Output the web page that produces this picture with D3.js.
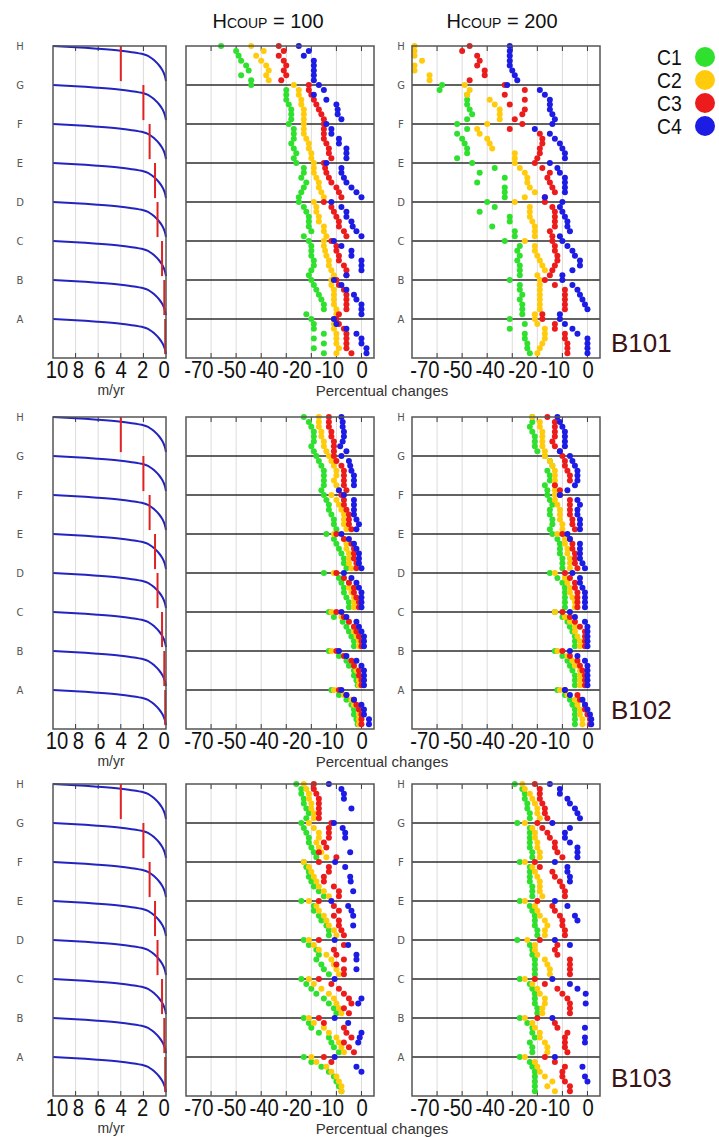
<!DOCTYPE html>
<html>
<head>
<meta charset="utf-8">
<script src="https://cdn.jsdelivr.net/npm/d3@7"></script>
<style>
  body { margin: 0; background: #fff; }
  svg { display: block; }
</style>
</head>
<body>
<svg id="chart" width="719" height="1137"></svg>
<script>
// ---------------------------------------------------------------
// Data
// ---------------------------------------------------------------
const categories = ["H", "G", "F", "E", "D", "C", "B", "A"];
const seriesNames = ["C1", "C2", "C3", "C4"];
const seriesColors = ["#2fe02f", "#ffcb0c", "#ec1c1c", "#1c1ce4"];
const blockNames = ["B101", "B102", "B103"];
const hcoupValues = [100, 200];

const velocityTickLabels = ["10", "8", "6", "4", "2", "0"];
const velocityGrid = [8, 6, 4, 2];
const percentTickLabels = ["-70", "-50", "-40", "-20", "-10", "0"];
const percentGrid = [-60, -50, -40, -30, -20, -10, 0];

// velocity profile (m/yr) against relative depth within one layer
const profileVelocity = [10, 8, 6, 4, 3, 2, 1.5, 1, 0.6, 0.3, 0.1, 0];
const profileDepth    = [0, 0.03, 0.07, 0.12, 0.16, 0.21, 0.27, 0.38, 0.5, 0.63, 0.77, 0.9];
// velocity at which each layer splits (m/yr), H..A
const splitVelocity = [4, 2, 1.45, 0.97, 0.75, 0.35, 0.15, 0.07];

// percentual changes, 8 samples per layer, layers H..A (null = off scale / no value)
const b101_100_c1 = [-56,-50,-49,-48,-46,-45,-48,-44, -44,-30,-30,-30,-29,-28,-28,-28, -29,-27,-27,-27,-28,-27,-26,-27, -26,-23,-23,-24,-22,-23,-24,-25,
                     -25,-23,-22,-21,-21,-21,-20,-23, -21,-20,-20,-20,-19,-19,-20,-21, -20,-19,-18,-17,-16,-15,-15,-22, -20,-19,-19,-15,-19,-15,-19,-15];
const b101_100_c2 = [-44,-39,-42,-40,-38,-37,-38,-37, -27,-25,-25,-24,-24,-23,-23,-23, -23,-23,-23,-22,-21,-21,-20,-20, -19,-19,-19,-18,-17,-17,-16,-15,
                     -19,-18,-18,-17,-17,-15,-15,-14, -15,-15,-14.5,-14,-13,-13,-12,-11, -12,-12,-11,-11,-11,-11,-10,-10, -11,-11,-11,-10,-10,-10,-9,-10];
const b101_100_c3 = [-33,-31,-33,-31,-30,-31,-30,-32, -21,-21,-20,-19,-18,-17,-16,-15, -15,-15,-15,-15,-14,-13,-13,-12, -15,-14.5,-14,-13,-12,-10,-9,-8,
                     -15,-12,-11,-10,-9,-9,-7,-6, -12,-10,-10,-9,-9,-7,-6,-6, -10,-9,-7,-6,-6,-6,-6,-9, -10,-9,-7,-6,-6,-6,-6,-4];
const b101_100_c4 = [-25,-21,-23,-19,-19,-19,-19,-19, -17,-15,-19,-14,-10,-9.5,-9.5,-8, -14,-12,-12,-9,-9,-6,-6,-6, -14,-8,-8,-7,-6,-4,-2,0,
                     -12,-8,-6,-6,-4,-3.5,-2,0, -11,-8,-4,-4,0,0,0,-6, -11,-8,-6,-3,-2,0,0,0, -11,-10,-6,-2,0,0,2,2];

const b101_200_c1 = [null,null,null,null,null,null,null,null, -58,-59,-48,-48,-48,-47,-46,-48, -52,-48,-52,-50,-49,-48,-48,-52, -46,-37,-43,-33,-44,-33,-33,-33,
                     -40,-37,-43,-31,-31,-38,-29,-29, -33,-27,-28,-27,-28,-27,-27,-27, -31,-27,-27,-26,-27,-26,-26,-26, -31,-25,-31,-25,-25,-24,-24,-23];
const b101_200_c2 = [-69,-69,-69,-66,-69,-69,-63,-63, -49,-47,-48,-39,-37,-35,-35,-35, -40,-44,-43,-40,-39,-38,-29,-29, -29,-27,-25,-24,-24,-23,-21,-25,
                     -29,-23,-23,-23,-22,-21,-21,-21, -25,-21,-21,-20,-19,-18,-17,-20, -19,-19,-19,-19,-19,-19,-19,-21, -21,-20,-17,-17,-17,-18,-19,-20];
const b101_200_c3 = [-47,-50,-44,-43,-44,-41,-41,-47, -33,-25,-33,-25,-31,-25,-26,-29, -26,-31,-19,-18,-18,-19,-19,-20, -21,-18,-15,-16,-15,-14,-13,-17,
                     -17,-14,-13,-13,-13,-13,-15,-14, -14,-13,-13,-12,-12,-13,-14,-15, -17,-13,-9,-9,-9,-9,-9,-18, -18,-13,-13,-9,-9,-8,-8,-8];
const b101_200_c4 = [-31,-31,-31,-31,-31,-30,-29,-28, -32,-19,-17,-15,-15,-15,-14,-13, -14,-21,-15,-13,-11,-10,-9,-9, -15,-12,-11,-9,-9,-9,-9,-17,
                     -10,-11,-10,-9,-8,-8,-7,-11, -10,-8,-6,-5,-3,-3,-6,-10, -10,-6,-4,-3,-2,-1,0,-11, -11,-9,-6,-4,0,0,0,0];

const b102_100_c1 = [-23,-21,-20,-19,-19,-19,-20,-19, -18,-17,-16,-15,-15,-15,-15,-16, -15,-14,-13,-13,-12,-11,-11,-10, -14,-11,-10,-9,-8,-7,-7,-6,
                     -15,-9,-8,-7,-7,-6,-5,-5, -13,-11,-7.5,-6,-5,-4,-3,-3, -13,-9,-6,-5,-3,-3,-2,-1.5, -12,-9,-6,-4,-3,-3,-2,-1.5];
const b102_100_c2 = [-17,-17,-17,-16,-16,-15,-15,-14, -13,-12,-11,-10,-10,-11,-10,-9, -12,-10,-9,-8,-7,-7,-7,-6, -11,-7,-6,-6,-5,-5,-5,-4,
                     -11,-7,-5,-5,-4,-3,-3,-3, -12,-8,-5,-3,-3,-2,-1,-1, -12,-7,-4,-3,-2,-1,-1,-1, -11,-7,-4,-3,-1,-1,-1,-1];
const b102_100_c3 = [-13,-13,-13,-12,-12,-11,-11,-11, -11,-10,-8,-7,-7,-7,-7,-6, -8,-7,-7,-6,-5,-5,-5,-4, -10,-7,-4,-3,-3,-3,-2,-2,
                     -10,-7,-5,-3,-3,-2,-1,-1, -10,-7,-5,-3,-2,-1,0,0, -10,-7,-4,-3,-1,-1,0,0, -9,-6,-3,-2,-1,0,0,0];
const b102_100_c4 = [-8,-7.5,-7.5,-7,-7,-7.5,-8.5,-6, -8,-5,-4.5,-4,-3,-3,-3,-9, -7,-3,-3,-3,-3,-2,-1,-2, -8,-5,-3,-2,-1,-1,-1,0,
                     -7,-4,-2,-1,0,0,0,0, -8,-6,-2,-1,0,1,1,1, -9,-6,-2,0,1,1,1,1, -8,-6,-3,0,1,1,3,3];

const b102_200_c1 = [-22,-22,-23,-22,-21,-21,-21,-20, -17,-15,-14,-16,-15,-15,-17,-16, -16,-15,-14,-15,-15,-14,-14,-15, -14,-12,-11,-11,-11,-10,-10,-10,
                     -15,-12,-10,-9,-9,-9,-9,-9, -13,-10,-8,-7,-6,-5,-5,-5, -13,-10,-8,-7,-6,-5,-5,-5, -12,-9,-7,-6,-5,-5,-5,-5];
const b102_200_c2 = [-22,-19,-19,-18,-18,-18,-18,-17, -17,-15,-14,-13,-13,-13,-13,-13, -13,-13,-12,-11,-11,-11,-10,-10, -12,-9,-9,-8,-8,-7,-7,-7,
                     -13,-9,-8,-7,-7,-6,-5,-5, -13,-9,-7,-5,-5,-4,-3,-3, -12,-8,-6,-5,-3,-3,-3,-3, -11,-8,-5,-4,-3,-3,-2,-2];
const b102_200_c3 = [-16,-13,-13,-13,-13,-14,-13,-11, -10,-9,-9,-8,-7,-7,-13,-11, -11,-7,-7,-7,-7,-6,-6,-5, -10,-7,-6,-6,-5,-5,-5,-4,
                     -9,-7,-5,-5,-4,-4,-4,-4, -10,-7,-5,-3,-1,-1,-1,-1, -10,-7,-4,-3,-2,-1,-1,-1, -9,-4,-3,-1,-1,0,1,1];
const b102_200_c4 = [-12,-11,-10,-9,-9,-9,-9,-11, -7,-6,-5,-4,-4,-4,-5,-8, -11,-4,-3,-4,-4,-3,-3,-3, -8,-7,-3,-3,-3,-3,-2,-1,
                     -6,-3,-3,-2,-1,-1,-1,-1, -7,-5,-1,0,0,0,0,0, -7,-4,-1,0,0,0,0,0, -9,-7,-2,-1,0,1,1.5,1.5];

const b103_100_c1 = [-26,-24,-24,-23,-23,-22,-21,-22, -24,-23,-22,-21,-21,-20,-19,-18, -23,-22,-21,-21,-20,-19,-17,-15, -24,-19,-19,-17,-16,-14,-13,-13,
                     -23,-21,-18,-17,-18,-16,-15,-13, -24,-22,-20,-18,-15,-13,-11,-10, -23,-21,-20,-17,-13,-12,-11,-9, -23,-20,-16,-13,-11,-10,-9,-8];
const b103_100_c2 = [-23,-22,-21,-21,-20,-20,-19,-19, -21,-19,-17,-17,-18,-17,-16,-14, -23,-21,-20,-19,-18,-17,-15,-13, -21,-18,-17,-15,-14,-13,-11,-10,
                     -21,-19,-17,-14,-12,-11,-10,-9, -21,-19,-16,-13,-11,-10,-9,-8, -21,-19,-15,-13,-10,-9,-8,-7, -20,-18,-14,-12,-10,-9,-8,-8];
const b103_100_c3 = [-19,-19,-18,-17,-17,-17,-17,-17, -12,-13,-13,-13,-15,-14,-17,-10, -17,-13,-13,-15,-15,-11,-9,-9, -17,-11,-9,-11,-9,-9,-8,-7,
                     -17,-7,-11,-10,-7,-10,-7,-7, -17,-12,-9,-7,-5,-4,-7,-5, -17,-15,-7,-6,-4,-7,-5,-3, -15,-12,null,null,null,null,null,null];
const b103_100_c4 = [-13,-8,-7,-7,null,-4,null,null, -11,-7.5,-6.5,-6.5,null,null,-4.5,null, -10.5,-6.5,null,-4.5,-4.3,null,-3.3,null, -12,-5.3,-4,-3.3,null,-3.3,null,null,
                     -10.7,-5.3,null,-2,-2,null,-2,null, -10.7,null,null,null,0,-1.3,null,null, -10.7,-5.3,null,0,-0.7,-1.3,null,null, -10.7,null,-2,0,null,null,null,null];

const b103_200_c1 = [-29,-26,-25,-25,-24,-24,-23,-23, -28,-23,-23,-23,-23,-23,-22,-22, -27,-23,-23,-23,-23,-22,-22,-22, -27,-23,-22,-21,-21,-21,-20,-20,
                     -28,-23,-22,-22,-21,-21,-21,-21, -27,-23,-22,-21,-21,-21,-20,-20, -27,-24,-22,-22,-21,-23,-22,-22, -27,-23,-22,-21,-21,-21,-21,-21];
const b103_200_c2 = [-26,-25,-23,-22,-21,-20,-20,-19, -25,-22,-21,-21,-20,-20,-19,-19, -25,-22,-21,-20,-19,-19,-19,-18, -25,-21,-20,-19,-17,-16,-17,-17,
                     -24,-21,-21,-20,-17,-16,-15,-15, -25,-22,-20,-19,-17,-17,-18,-18, -25,-22,-21,-19,-19,-17,-16,-16, -25,-21,-20,-19,-17,-14,-16,-13];
const b103_200_c3 = [-21,-19,-19,-19,-18,-17,-17,-16, -20,-18,-16,-15,-13,-13,-12,-10, -21,-19,-14,-13,-11,-10,-9,-9, -20,-14,-13,-11,-10,-10,-9,-9,
                     -19,-12,-13,-12,-7,-7,-7,-7, -21,-17,-12,-10,-8,-7,-7,-7, -20,-13,-12,-8,-9,-9,-9,-8, -17,-13,-9,-10,-10,-9,-7,-7];
const b103_200_c4 = [-15,-11,-11,-8,-7,-5,-4,-3, -14,-7,-9,-9,-7,-4,-4,-4, -13,-8,-8,-7,-7,null,null,null, -13,-8,null,-5,-4,null,null,null,
                     -13,-7,null,null,null,null,null,null, -14,-7,-4,-0.7,null,-0.7,null,null, -14,null,-1,null,-1,-1,null,null, -13,null,-2,null,-1,0,null,null];

// series grouped per block and per Hcoup
const blockSeries = [
  [[b101_100_c1, b101_100_c2, b101_100_c3, b101_100_c4], [b101_200_c1, b101_200_c2, b101_200_c3, b101_200_c4]],
  [[b102_100_c1, b102_100_c2, b102_100_c3, b102_100_c4], [b102_200_c1, b102_200_c2, b102_200_c3, b102_200_c4]],
  [[b103_100_c1, b103_100_c2, b103_100_c3, b103_100_c4], [b103_200_c1, b103_200_c2, b103_200_c3, b103_200_c4]]
];

// ---------------------------------------------------------------
// Layout
// ---------------------------------------------------------------
const layout = {
  rowTops: [46, 417, 784],
  panelH: 312,
  velX: [53, 166],
  pctX: [186, 412],
  pctW: 188,
  blockLabelY: [352, 719, 1087],
  titleX: [268, 502],
  samplesPerLayer: 8
};

const svg = d3.select("#chart");
const ink = "#3a3a3a";
const gridColor = "#dcdcdc";
const squeeze = 0.88;

// text that is horizontally condensed
function condensedText(g, x, y, str, size, anchor, fill) {
  return g.append("text")
    .attr("transform", `translate(${x},${y}) scale(${squeeze},1)`)
    .attr("text-anchor", anchor || "middle")
    .attr("font-family", "'Liberation Sans', Arial, sans-serif")
    .attr("font-size", size)
    .attr("fill", fill || "#111")
    .text(str);
}

function frameTicks(g, xs, top, bottom) {
  xs.forEach(x => {
    g.append("line").attr("x1", x).attr("x2", x).attr("y1", top).attr("y2", top + 5)
      .attr("stroke", ink).attr("stroke-width", 1);
    g.append("line").attr("x1", x).attr("x2", x).attr("y1", bottom).attr("y2", bottom - 5)
      .attr("stroke", ink).attr("stroke-width", 1);
  });
}

function categoryLabels(g, x, yScale) {
  g.selectAll(null).data(categories).join("text")
    .attr("x", x).attr("y", (d, i) => yScale(i) + 4)
    .attr("text-anchor", "middle")
    .attr("font-family", "'DejaVu Sans', sans-serif")
    .attr("font-size", 10)
    .attr("fill", "#555")
    .text(d => d);
}

// ---------------------------------------------------------------
// Titles and legend
// ---------------------------------------------------------------
hcoupValues.forEach((h, i) => {
  svg.append("text")
    .attr("x", layout.titleX[i]).attr("y", 28)
    .attr("text-anchor", "middle")
    .attr("font-family", "'Liberation Sans', Arial, sans-serif")
    .attr("font-size", 20)
    .style("font-variant", "small-caps")
    .attr("fill", "#111")
    .text(`Hcoup = ${h}`);
});

const legend = svg.append("g");
seriesNames.forEach((name, i) => {
  const y = 57 + i * 23;
  condensedText(legend, 657, y + 8, name, 22, "start", "#111");
  legend.append("circle").attr("cx", 705).attr("cy", y).attr("r", 10)
    .attr("fill", seriesColors[i]);
});

// ---------------------------------------------------------------
// Rows
// ---------------------------------------------------------------
blockNames.forEach((block, r) => {
  const top = layout.rowTops[r];
  const bottom = top + layout.panelH;
  const y = d3.scaleLinear().domain([0, categories.length]).range([top, bottom]);
  const row = svg.append("g");

  // ---- velocity profiles ----
  const xv = d3.scaleLinear().domain([10, 0]).range(layout.velX);
  const vg = row.append("g");
  vg.selectAll(null).data(velocityGrid).join("line")
    .attr("x1", d => xv(d)).attr("x2", d => xv(d)).attr("y1", top).attr("y2", bottom)
    .attr("stroke", gridColor).attr("stroke-width", 1);
  frameTicks(vg, velocityGrid.map(xv), top, bottom);

  const profile = d3.line().curve(d3.curveMonotoneY)
    .x(d => xv(d[0])).y(d => d[1]);
  categories.forEach((c, k) => {
    const pts = profileVelocity.map((v, j) => [v, y(k + profileDepth[j])]);
    vg.append("path").attr("d", profile(pts))
      .attr("fill", "none").attr("stroke", "#2323c0").attr("stroke-width", 2);
  });
  vg.selectAll(null).data(splitVelocity).join("line")
    .attr("x1", d => xv(d)).attr("x2", d => xv(d))
    .attr("y1", (d, k) => y(k)).attr("y2", (d, k) => y(k + 0.9))
    .attr("stroke", "#e02222").attr("stroke-width", 2);
  vg.append("rect").attr("x", layout.velX[0]).attr("y", top)
    .attr("width", layout.velX[1] - layout.velX[0]).attr("height", layout.panelH)
    .attr("fill", "none").attr("stroke", "#555").attr("stroke-width", 1.5);
  categoryLabels(vg, 20, y);

  const vLab = d3.scalePoint().domain(velocityTickLabels).range([57, 164]);
  velocityTickLabels.forEach(t => condensedText(vg, vLab(t), bottom + 20, t, 23));
  vg.append("text").attr("x", 111).attr("y", bottom + 37)
    .attr("text-anchor", "middle")
    .attr("font-family", "'Liberation Sans', Arial, sans-serif")
    .attr("font-size", 14).attr("fill", "#333").text("m/yr");

  // ---- percentual change panels ----
  hcoupValues.forEach((h, p) => {
    const x0 = layout.pctX[p];
    const xp = d3.scaleLinear().domain([-70, 5]).range([x0, x0 + layout.pctW]);
    const pg = row.append("g");
    pg.selectAll(null).data(percentGrid).join("line")
      .attr("x1", d => xp(d)).attr("x2", d => xp(d)).attr("y1", top).attr("y2", bottom)
      .attr("stroke", gridColor).attr("stroke-width", 1);
    pg.selectAll(null).data(categories.slice(1)).join("line")
      .attr("x1", x0).attr("x2", x0 + layout.pctW)
      .attr("y1", (d, i) => y(i + 1)).attr("y2", (d, i) => y(i + 1))
      .attr("stroke", "#2e2e2e").attr("stroke-width", 1.6);
    frameTicks(pg, percentGrid.map(xp), top, bottom);

    blockSeries[r][p].forEach((vals, s) => {
      const pts = vals.map((v, i) => ({ v, i })).filter(d => d.v !== null);
      pg.selectAll(null).data(pts).join("circle")
        .attr("cx", d => xp(d.v))
        .attr("cy", d => y(d.i / layout.samplesPerLayer))
        .attr("r", 3)
        .attr("fill", seriesColors[s]);
    });

    pg.append("rect").attr("x", x0).attr("y", top)
      .attr("width", layout.pctW).attr("height", layout.panelH)
      .attr("fill", "none").attr("stroke", "#555").attr("stroke-width", 1.5);

    if (p === 1) categoryLabels(pg, x0 - 11, y);

    const pLab = d3.scalePoint().domain(percentTickLabels).range([x0 + 13, x0 + 176]);
    percentTickLabels.forEach(t => condensedText(pg, pLab(t), bottom + 20, t, 23));
  });

  row.append("text").attr("x", 382).attr("y", bottom + 38)
    .attr("text-anchor", "middle")
    .attr("font-family", "'Liberation Sans', Arial, sans-serif")
    .attr("font-size", 15).attr("fill", "#333").text("Percentual changes");

  row.append("text").attr("x", 611).attr("y", layout.blockLabelY[r])
    .attr("font-family", "'Liberation Sans', Arial, sans-serif")
    .attr("font-size", 26).attr("fill", "#3a1414").text(block);
});
</script>
</body>
</html>
